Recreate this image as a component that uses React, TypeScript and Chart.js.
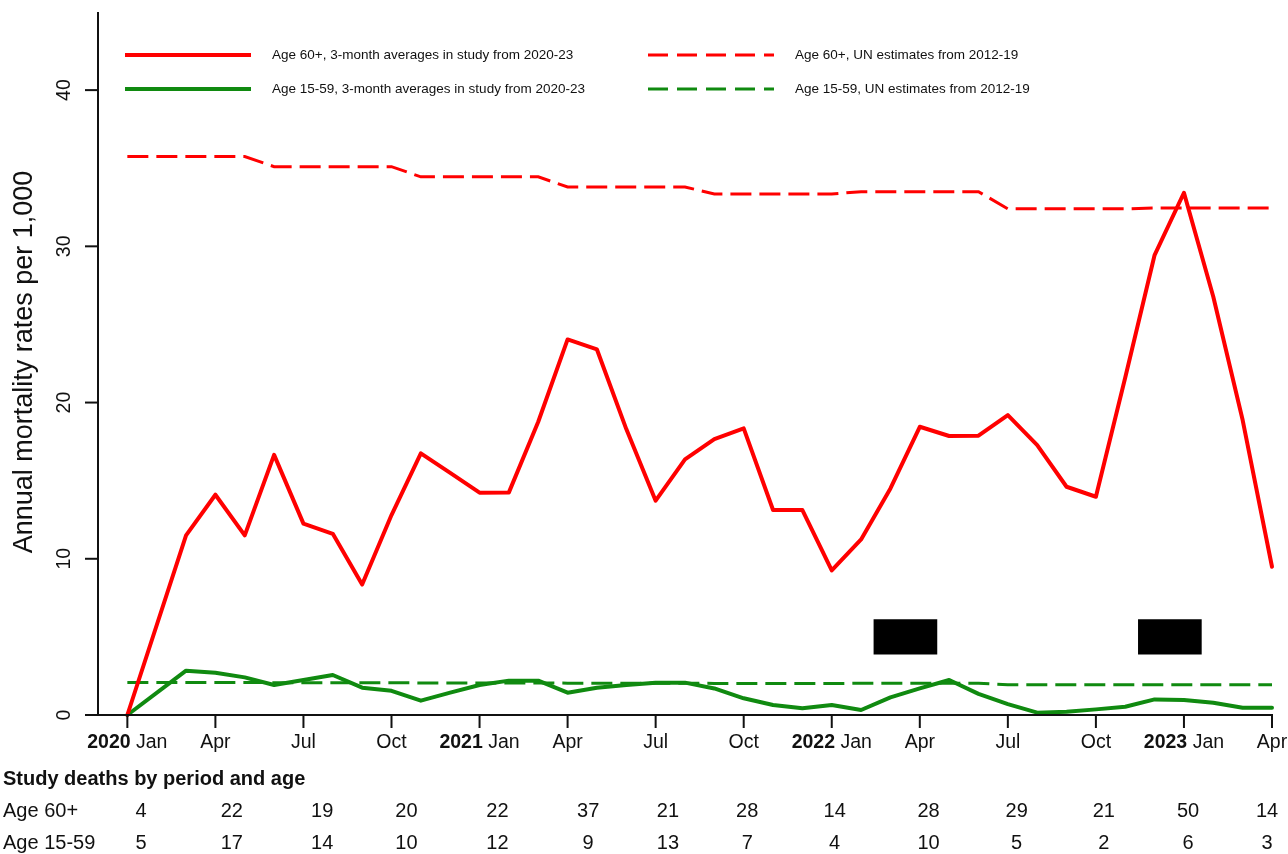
import { useEffect, useRef } from 'react';
import { Chart, registerables } from 'chart.js';

Chart.register(...registerables);

// Month index: 0 = Jan 2020 ... 39 = Apr 2023
const studyMonths = [0, 2, 3, 4, 5, 6, 7, 8, 9, 10, 11, 12, 13, 14, 15, 16, 17, 18, 19, 20, 21, 22, 23, 24, 25, 26, 27, 28, 29, 30, 31, 32, 33, 34, 35, 36, 37, 38, 39];
const age60Study = [0, 11.5, 14.1, 11.5, 16.65, 12.25, 11.6, 8.35, 12.8, 16.75, 15.5, 14.23, 14.25, 18.77, 24.04, 23.4, 18.3, 13.72, 16.36, 17.66, 18.35, 13.12, 13.12, 9.25, 11.24, 14.5, 18.45, 17.86, 17.88, 19.2, 17.28, 14.61, 13.97, 21.6, 29.44, 33.43, 26.77, 18.88, 9.49];
const age1559Study = [0, 2.84, 2.71, 2.41, 1.92, 2.24, 2.56, 1.75, 1.55, 0.92, 1.43, 1.92, 2.2, 2.2, 1.43, 1.75, 1.92, 2.07, 2.07, 1.7, 1.07, 0.64, 0.43, 0.64, 0.32, 1.13, 1.7, 2.24, 1.35, 0.7, 0.15, 0.21, 0.36, 0.53, 1.0, 0.96, 0.79, 0.47, 0.47];

const unMonths = [0, 1, 2, 3, 4, 5, 6, 7, 8, 9, 10, 11, 12, 13, 14, 15, 16, 17, 18, 19, 20, 21, 22, 23, 24, 25, 26, 27, 28, 29, 30, 31, 32, 33, 34, 35, 36, 37, 38, 39];
const age60UN = [35.75, 35.75, 35.75, 35.75, 35.75, 35.1, 35.1, 35.1, 35.1, 35.1, 34.45, 34.45, 34.45, 34.45, 34.45, 33.8, 33.8, 33.8, 33.8, 33.8, 33.35, 33.35, 33.35, 33.35, 33.35, 33.5, 33.5, 33.5, 33.5, 33.5, 32.4, 32.4, 32.4, 32.4, 32.4, 32.45, 32.45, 32.45, 32.45, 32.45];
const age1559UN = [2.08, 2.08, 2.08, 2.08, 2.08, 2.07, 2.07, 2.07, 2.07, 2.07, 2.05, 2.05, 2.05, 2.05, 2.05, 2.04, 2.04, 2.04, 2.04, 2.04, 2.02, 2.02, 2.02, 2.02, 2.02, 2.03, 2.03, 2.03, 2.03, 2.03, 1.94, 1.94, 1.94, 1.94, 1.94, 1.94, 1.94, 1.94, 1.94, 1.94];

const xTickMonths = [0, 3, 6, 9, 12, 15, 18, 21, 24, 27, 30, 33, 36, 39];
const xTickLabels = ['Jan', 'Apr', 'Jul', 'Oct', 'Jan', 'Apr', 'Jul', 'Oct', 'Jan', 'Apr', 'Jul', 'Oct', 'Jan', 'Apr'];
const xTickYears = ['2020', '', '', '', '2021', '', '', '', '2022', '', '', '', '2023', ''];
const yTicks = [0, 10, 20, 30, 40];

const periodCenters = [0.47, 3.56, 6.64, 9.51, 12.61, 15.7, 18.42, 21.12, 24.1, 27.3, 30.3, 33.27, 36.14, 38.83];
const deaths60 = [4, 22, 19, 20, 22, 37, 21, 28, 14, 28, 29, 21, 50, 14];
const deaths1559 = [5, 17, 14, 10, 12, 9, 13, 7, 4, 10, 5, 2, 6, 3];

const boxCenters = [26.51, 35.52];
const boxLow = [3.9, 3.9];
const boxHigh = [6.1, 6.1];

const RED = '#ff0000';
const GREEN = '#108a10';
const FONT = '"Liberation Sans", Arial, Helvetica, sans-serif';
const INK = '#111111';

const legendItems = [
  { text: 'Age 60+, 3-month averages in study from 2020-23', color: RED, dashed: false, x: 125, y: 55 },
  { text: 'Age 15-59, 3-month averages in study from 2020-23', color: GREEN, dashed: false, x: 125, y: 89 },
  { text: 'Age 60+, UN estimates from 2012-19', color: RED, dashed: true, x: 648, y: 55 },
  { text: 'Age 15-59, UN estimates from 2012-19', color: GREEN, dashed: true, x: 648, y: 89 },
];

const decorPlugin = {
  id: 'decor',
  afterDraw(chart: any) {
    const { ctx, chartArea, scales } = chart;
    const xs = scales.x;
    const ys = scales.y;
    ctx.save();
    ctx.strokeStyle = INK;
    ctx.fillStyle = INK;
    ctx.lineWidth = 2;
    ctx.lineCap = 'butt';

    // y axis
    ctx.beginPath();
    ctx.moveTo(chartArea.left, chartArea.top);
    ctx.lineTo(chartArea.left, chartArea.bottom);
    ctx.stroke();
    // x axis
    ctx.beginPath();
    ctx.moveTo(chartArea.left - 13, chartArea.bottom);
    ctx.lineTo(xs.getPixelForValue(xTickMonths[xTickMonths.length - 1]) + 1, chartArea.bottom);
    ctx.stroke();

    // y ticks
    ctx.font = `19.5px ${FONT}`;
    ctx.textAlign = 'center';
    ctx.textBaseline = 'middle';
    yTicks.forEach((v) => {
      const y = ys.getPixelForValue(v);
      ctx.beginPath();
      ctx.moveTo(chartArea.left - 13, y);
      ctx.lineTo(chartArea.left, y);
      ctx.stroke();
      ctx.save();
      ctx.translate(65, y);
      ctx.rotate(-Math.PI / 2);
      ctx.fillText(String(v), 0, 0);
      ctx.restore();
    });

    // y title
    ctx.save();
    ctx.font = `27px ${FONT}`;
    ctx.translate(25, 362);
    ctx.rotate(-Math.PI / 2);
    ctx.fillText('Annual mortality rates per 1,000', 0, 0);
    ctx.restore();

    // x ticks
    xTickMonths.forEach((m, i) => {
      const x = xs.getPixelForValue(m);
      ctx.beginPath();
      ctx.moveTo(x, chartArea.bottom);
      ctx.lineTo(x, chartArea.bottom + 13);
      ctx.stroke();
      const yr = xTickYears[i];
      const lab = xTickLabels[i];
      ctx.textBaseline = 'middle';
      if (yr) {
        ctx.font = `bold 19.5px ${FONT}`;
        const w1 = ctx.measureText(yr + ' ').width;
        ctx.font = `19.5px ${FONT}`;
        const w2 = ctx.measureText(lab).width;
        const start = x - (w1 + w2) / 2;
        ctx.textAlign = 'left';
        ctx.font = `bold 19.5px ${FONT}`;
        ctx.fillText(yr, start, 743);
        ctx.font = `19.5px ${FONT}`;
        ctx.fillText(lab, start + w1, 743);
      } else {
        ctx.font = `19.5px ${FONT}`;
        ctx.textAlign = 'center';
        ctx.fillText(lab, x, 743);
      }
    });

    // table
    ctx.textBaseline = 'middle';
    ctx.textAlign = 'left';
    ctx.font = `bold 20px ${FONT}`;
    ctx.fillText('Study deaths by period and age', 3, 779);
    ctx.font = `20px ${FONT}`;
    ctx.fillText('Age 60+', 3, 811);
    ctx.fillText('Age 15-59', 3, 843);
    ctx.textAlign = 'center';
    periodCenters.forEach((c, i) => {
      const x = xs.getPixelForValue(c);
      ctx.fillText(String(deaths60[i]), x, 811);
      ctx.fillText(String(deaths1559[i]), x, 843);
    });

    // legend
    legendItems.forEach((it) => {
      ctx.save();
      ctx.strokeStyle = it.color;
      ctx.lineWidth = it.dashed ? 3 : 4;
      ctx.setLineDash(it.dashed ? [20, 9] : []);
      ctx.beginPath();
      ctx.moveTo(it.x, it.y);
      ctx.lineTo(it.x + 126, it.y);
      ctx.stroke();
      ctx.restore();
      ctx.font = `13.5px ${FONT}`;
      ctx.textAlign = 'left';
      ctx.textBaseline = 'middle';
      ctx.fillStyle = INK;
      ctx.fillText(it.text, it.x + 147, it.y);
    });

    ctx.restore();
  },
};

export default function App() {
  const ref = useRef<HTMLCanvasElement | null>(null);

  useEffect(() => {
    if (!ref.current) return;
    const toXY = (xsArr: number[], ysArr: number[]) => xsArr.map((x, i) => ({ x, y: ysArr[i] }));
    const chart = new Chart(ref.current, {
      type: 'line',
      data: {
        datasets: [
          {
            label: 'Age 60+, 3-month averages in study from 2020-23',
            data: toXY(studyMonths, age60Study),
            borderColor: RED,
            borderWidth: 4,
            pointRadius: 0,
            tension: 0,
            borderJoinStyle: 'round',
            borderCapStyle: 'round',
            clip: false,
          } as any,
          {
            label: 'Age 15-59, 3-month averages in study from 2020-23',
            data: toXY(studyMonths, age1559Study),
            borderColor: GREEN,
            borderWidth: 4,
            pointRadius: 0,
            tension: 0,
            borderJoinStyle: 'round',
            borderCapStyle: 'round',
            clip: false,
          } as any,
          {
            label: 'Age 60+, UN estimates from 2012-19',
            data: toXY(unMonths, age60UN),
            borderColor: RED,
            borderWidth: 3,
            borderDash: [21, 8],
            pointRadius: 0,
            tension: 0,
            clip: false,
          } as any,
          {
            label: 'Age 15-59, UN estimates from 2012-19',
            data: toXY(unMonths, age1559UN),
            borderColor: GREEN,
            borderWidth: 3,
            borderDash: [21, 8],
            pointRadius: 0,
            tension: 0,
            clip: false,
          } as any,
          {
            type: 'bar',
            label: 'box',
            data: boxCenters.map((x, i) => ({ x, y: [boxLow[i], boxHigh[i]] })),
            backgroundColor: '#000000',
            borderWidth: 0,
            barThickness: 63,
          } as any,
        ],
      },
      options: {
        animation: false,
        responsive: true,
        maintainAspectRatio: false,
        devicePixelRatio: 1,
        layout: { padding: { left: 98, right: 16, top: 12, bottom: 139 } },
        plugins: { legend: { display: false }, tooltip: { enabled: false }, title: { display: false } },
        events: [],
        scales: {
          x: { type: 'linear', min: -1, max: 39, display: false, offset: false },
          y: { type: 'linear', min: 0, max: 45, display: false },
        },
      } as any,
      plugins: [decorPlugin],
    });
    return () => chart.destroy();
  }, []);

  return (
    <div style={{ position: 'absolute', left: 0, top: 0, width: 1288, height: 854, background: '#fff' }}>
      <canvas ref={ref} />
    </div>
  );
}
